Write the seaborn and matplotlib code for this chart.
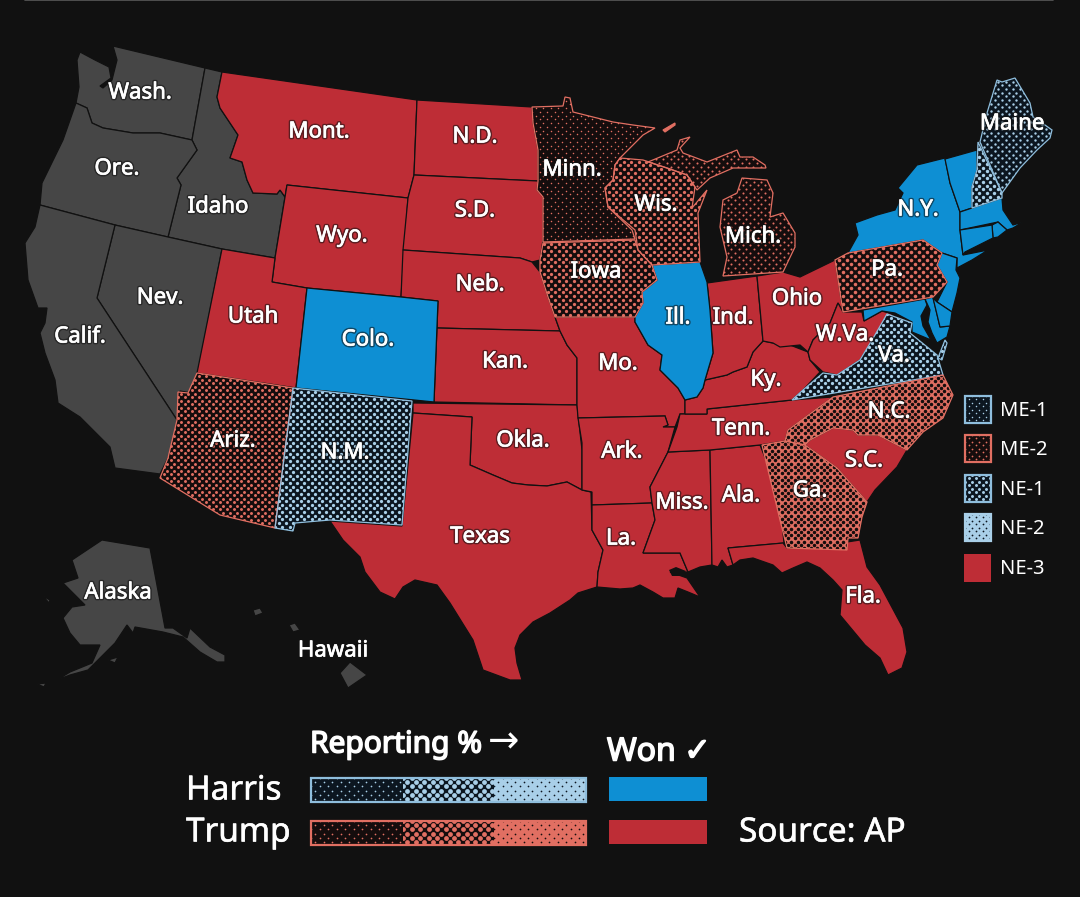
#!/usr/bin/env python3
import numpy as np
import pandas as pd
import matplotlib
matplotlib.use("Agg")
import matplotlib.pyplot as plt
import matplotlib.patheffects as pe
import seaborn as sns

BG = "#111111"
GRAY = "#464646"
RED = "#BE2D36"
BLUE = "#0E8FD3"
SALMON = "#E16F62"
SKY = "#A9CFE8"
NAVY = "#0C1620"
MAROON = "#150D0D"

# state outlines in pixels
wash = [(113,46),(205,68),(192,140),(160,133),(133,133),(103,128),(92,123),(87,108),(76,103),(79,87),(77,60),(80,52),(95,60),(109,67),(111,78),(100,86),(103,88),(112,80),(117,60)]
idaho = [(205,68),(222,72),(217,97),(220,108),(238,135),(230,158),(242,162),(247,180),(253,193),(277,194),(280,190),(285,197),(275,258),(222,249),(168,237),(181,185),(177,178),(197,150),(192,140)]
oregon = [(76,103),(87,108),(92,123),(103,128),(133,133),(160,133),(192,140),(197,150),(177,178),(181,185),(168,237),(115,225),(40,205),(42,183),(63,140)]
nevada = [(115,225),(168,237),(222,249),(198,372),(191,393),(180,391),(177,420),(97,298)]
calif = [(40,205),(115,225),(97,298),(177,420),(180,433),(167,460),(160,474),(115,468),(110,447),(80,417),(58,403),(55,380),(45,353),(40,333),(45,323),(47,308),(38,308),(28,280),(25,243),(35,227)]
alaska = [(102,540),(150,548),(165,628),(173,628),(187,638),(190,628),(210,647),(225,655),(225,662),(217,662),(200,652),(183,637),(163,632),(135,627),(133,633),(127,625),(115,643),(88,670),(70,675),(57,680),(70,672),(92,663),(100,645),(80,645),(70,633),(63,618),(72,607),(85,605),(63,583),(78,578),(72,560)]
kodiak = [(108,660),(118,657),(115,663)]
st_lawrence = [(43,596),(50,600),(49,603)]
aleutian = [(37,684),(46,683),(44,687)]
hawaii_big = [(350,662),(367,675),(348,688),(340,673)]
maui = [(289,625),(295,623),(300,630),(293,632)]
kauai = [(253,610),(260,608),(263,613),(255,616)]

montana = [(222,72),(417,100),(414,175),(408,198),(287,185),(285,197),(280,190),(277,194),(253,193),(247,180),(242,162),(230,158),(238,135),(220,108),(217,97)]
wyoming = [(287,185),(408,198),(401,297),(307,288),(272,282),(275,258)]
utah = [(222,249),(275,258),(272,282),(307,288),(296,388),(197,373)]
north_dakota = [(417,100),(532,107),(533,123),(538,150),(538,181),(414,175)]
south_dakota = [(414,175),(538,181),(537,190),(543,197),(543,240),(540,260),(532,262),(520,258),(403,250),(408,198)]
nebraska = [(403,250),(520,258),(532,262),(540,272),(548,297),(555,317),(560,331),(437,328),(438,301),(401,297)]
kansas = [(437,328),(560,331),(567,345),(577,358),(577,405),(434,402)]
oklahoma = [(413,403),(577,405),(582,450),(582,490),(567,482),(547,486),(528,485),(512,483),(493,475),(470,465),(472,417),(413,413)]
texas = [(413,413),(472,417),(470,465),(493,475),(512,483),(528,485),(547,486),(567,482),(582,490),(591,492),(592,530),(603,550),(598,572),(597,587),(578,593),(570,600),(550,613),(533,622),(520,635),(515,648),(517,663),(522,680),(510,680),(483,670),(473,640),(450,603),(437,585),(415,580),(403,587),(395,599),(380,592),(365,572),(360,557),(343,540),(330,521),(402,526)]
missouri = [(555,317),(635,317),(635,322),(648,345),(662,355),(660,370),(678,388),(685,400),(685,414),(680,414),(675,427),(663,427),(668,425),(665,416),(578,418),(577,405),(577,358),(567,345),(560,331)]
arkansas = [(578,418),(665,416),(668,425),(663,427),(675,427),(668,452),(650,487),(652,503),(592,505),(592,492),(582,490),(582,443)]
louisiana = [(592,505),(652,503),(655,520),(643,553),(680,553),(688,572),(670,572),(687,578),(700,597),(688,592),(678,588),(675,598),(663,598),(653,592),(640,585),(633,588),(620,589),(597,587),(598,572),(603,550),(592,530)]
mississippi = [(668,452),(710,450),(712,565),(700,567),(688,572),(680,553),(643,553),(655,520),(652,503),(650,487)]
alabama = [(710,450),(760,445),(770,470),(782,523),(784,543),(728,548),(733,565),(727,567),(722,560),(718,567),(712,565)]
tennessee = [(685,414),(707,414),(707,409),(792,400),(833,397),(788,430),(785,441),(760,445),(710,450),(668,452),(677,427),(680,414)]
kentucky = [(763,341),(773,343),(790,345),(808,352),(810,360),(820,372),(803,390),(792,400),(707,409),(707,414),(685,414),(685,400),(697,397),(703,388),(705,380),(727,375),(733,372),(747,367),(753,352)]
indiana = [(707,283),(757,276),(763,341),(753,352),(747,367),(733,372),(727,375),(705,380),(713,353),(710,310)]
ohio = [(757,276),(783,272),(800,277),(835,260),(843,312),(838,303),(830,323),(813,340),(808,352),(800,345),(780,347),(773,343),(763,341)]
west_virginia = [(843,312),(862,312),(864,321),(882,311),(895,315),(887,316),(875,337),(860,360),(837,375),(823,372),(810,360),(808,352),(813,340),(830,323),(838,303)]
south_carolina = [(805,445),(810,440),(833,428),(853,430),(858,435),(878,435),(907,450),(897,467),(875,490),(867,502),(837,468)]
florida = [(728,548),(783,543),(787,548),(847,548),(847,542),(860,540),(867,567),(880,585),(903,628),(907,652),(902,668),(888,675),(880,658),(865,645),(850,627),(840,615),(842,590),(833,580),(820,568),(807,562),(793,568),(782,573),(773,565),(753,558),(740,560),(733,565)]
pontchartrain = [(669,570),(676,567),(686,571),(680,576),(672,576)]

colorado = [(307,288),(401,297),(438,301),(434,402),(296,388)]
illinois = [(652,265),(700,262),(707,282),(710,310),(713,353),(705,380),(703,388),(697,397),(685,400),(678,388),(660,370),(662,355),(648,345),(635,322),(635,317),(643,303),(642,292),(657,280)]
new_york = [(848,253),(858,235),(855,223),(877,215),(895,210),(903,193),(898,188),(917,165),(945,158),(950,183),(960,212),(960,230),(963,255),(988,250),(972,260),(957,268),(957,258),(942,253),(923,240)]
new_jersey = [(942,253),(957,258),(956,270),(960,278),(957,293),(952,312),(937,302),(947,282),(937,265)]
maryland_west = [(863,310),(925,299),(927,305),(921,316),(923,326),(931,340),(912,332),(912,322),(895,313),(882,311),(864,321)]
maryland_east = [(925,299),(933,297),(940,327),(950,326),(947,337),(937,343),(932,333),(928,322),(930,310)]
delaware = [(933,298),(937,302),(952,312),(950,326),(940,327)]
vermont = [(945,159),(977,150),(977,170),(972,187),(972,208),(960,212),(950,183)]
massachusetts = [(960,212),(1002,198),(1003,210),(1013,225),(1023,222),(1013,228),(1007,230),(998,222),(960,230)]
rhode_island = [(998,222),(992,225),(993,238),(998,237),(1007,230)]
connecticut = [(960,230),(992,225),(993,238),(965,252),(963,255)]

minnesota = [(532,107),(563,106),(565,97),(570,98),(573,112),(613,122),(633,125),(655,128),(643,135),(620,158),(615,165),(613,180),(605,188),(608,207),(632,230),(635,239),(543,242),(543,197),(537,190),(538,181),(538,150),(533,123)]
michigan_upper = [(648,162),(677,150),(680,140),(690,137),(680,148),(683,153),(707,162),(737,150),(740,157),(753,157),(765,165),(766,168),(747,168),(733,168),(710,178),(697,190),(695,187),(687,175),(667,168)]
michigan_lower = [(742,178),(767,180),(773,193),(770,217),(783,213),(795,233),(795,247),(783,272),(723,276),(727,257),(720,227),(723,200),(737,193)]
isle_royale = [(663,130),(675,123),(675,125),(665,132)]
wisconsin = [(615,165),(620,158),(643,160),(667,168),(687,175),(695,187),(692,208),(707,190),(698,213),(700,262),(652,265),(638,250),(635,230),(608,207),(605,188),(613,180)]
iowa = [(543,243),(635,240),(638,250),(652,265),(657,280),(642,292),(643,303),(635,317),(555,317),(548,297),(540,272),(540,260)]
pennsylvania = [(835,260),(848,253),(923,240),(942,253),(937,265),(947,282),(933,297),(843,312)]
arizona = [(197,373),(293,388),(275,528),(220,515),(160,478),(168,458),(177,420),(178,392),(188,393)]
new_mexico = [(293,388),(412,401),(402,525),(330,520),(295,523),(293,531),(275,528)]
virginia = [(887,314),(912,323),(910,333),(937,355),(943,375),(792,400),(803,390),(823,373),(837,375),(860,360),(875,335)]
va_shore = [(945,340),(938,358),(942,360),(947,343)]
north_carolina = [(943,375),(953,395),(943,418),(923,432),(907,450),(878,435),(858,435),(853,430),(833,428),(810,440),(805,445),(785,441),(788,430),(833,397)]
georgia = [(762,445),(785,441),(805,445),(837,468),(867,502),(862,517),(858,538),(848,538),(847,550),(787,548),(780,520)]
maine = [(980,142),(987,113),(997,80),(1002,82),(1015,78),(1030,103),(1033,117),(1045,125),(1052,130),(1050,138),(1037,150),(1020,168),(1002,193)]
new_hampshire = [(978,142),(1002,193),(1002,198),(972,208),(972,187),(977,170)]

gray_states = [wash, idaho, oregon, nevada, calif, alaska, kodiak, st_lawrence, aleutian, hawaii_big, maui, kauai]
red_states = [montana, wyoming, utah, north_dakota, south_dakota, nebraska, kansas, oklahoma, texas, missouri, arkansas, louisiana, mississippi, alabama, tennessee, kentucky, indiana, ohio, west_virginia, south_carolina, florida]
blue_states = [colorado, illinois, new_york, new_jersey, maryland_west, maryland_east, delaware, vermont, massachusetts, rhode_island, connecticut]

# fill, dots, outline, dot area in pt^2, lattice step in px
pattern_styles = [
    (minnesota, MAROON, SALMON, SALMON, 1.2, 7.5),
    (michigan_upper, MAROON, SALMON, SALMON, 2.2, 7.5),
    (michigan_lower, MAROON, SALMON, SALMON, 2.2, 7.5),
    (isle_royale, SALMON, SALMON, SALMON, 1, 7.5),
    (wisconsin, MAROON, SALMON, SALMON, 5.5, 7.5),
    (iowa, MAROON, SALMON, SALMON, 5.5, 7.5),
    (pennsylvania, MAROON, SALMON, SALMON, 6.5, 8),
    (arizona, MAROON, SALMON, SALMON, 4.5, 7),
    (new_mexico, NAVY, SKY, "#8FBEDD", 5.5, 7.3),
    (virginia, NAVY, SKY, "#8FBEDD", 5.5, 7.3),
    (va_shore, NAVY, SKY, "#8FBEDD", 5.5, 7.3),
    (north_carolina, SALMON, MAROON, SALMON, 6.5, 6.5),
    (georgia, SALMON, MAROON, SALMON, 6.5, 6.5),
    (maine, NAVY, SKY, "#8FBEDD", 3, 7.3),
    (new_hampshire, NAVY, SKY, "#8FBEDD", 6, 7.3),
]

state_names = ["Wash.", "Ore.", "Idaho", "Mont.", "N.D.", "Minn.", "Wis.", "Mich.", "Maine", "N.Y.", "Pa.", "Ohio", "Ind.", "Ill.", "Iowa", "Neb.", "S.D.", "Wyo.", "Utah", "Colo.", "Nev.", "Calif.", "Kan.", "Mo.", "Ky.", "W.Va.", "Va.", "N.C.", "S.C.", "Tenn.", "Ga.", "Ala.", "Miss.", "La.", "Ark.", "Okla.", "Texas", "N.M.", "Ariz.", "Fla.", "Alaska", "Hawaii"]
name_x = [140, 117, 218, 319, 475, 572, 656, 753, 1012, 918, 887, 797, 733, 678, 596, 480, 475, 342, 253, 368, 160, 80, 505, 618, 766, 845, 894, 889, 864, 741, 810, 741, 682, 621, 622, 523, 480, 345, 233, 863, 118, 333]
name_y = [91, 167, 205, 130, 135, 168, 203, 235, 122, 208, 268, 297, 316, 316, 270, 283, 209, 234, 315, 338, 296, 335, 360, 362, 378, 333, 354, 410, 459, 427, 489, 494, 501, 537, 450, 439, 535, 451, 439, 595, 591, 649]

district_labels = ["ME-1", "ME-2", "NE-1", "NE-2", "NE-3"]
district_tops = [396, 435, 475, 514, 554]


def dot_texture(ax, patch, outline, dots, area, step):
    # diamond lattice of dots, clipped to the shape
    pts = np.array(outline)
    xs = np.arange(pts[:, 0].min() - step, pts[:, 0].max() + step, step)
    ys = np.arange(pts[:, 1].min() - step, pts[:, 1].max() + step, step)
    gx, gy = np.meshgrid(xs, ys)
    lattice = pd.DataFrame({
        "x": np.r_[gx.ravel(), gx.ravel() + step / 2],
        "y": np.r_[gy.ravel(), gy.ravel() + step / 2],
    })
    before = len(ax.collections)
    sns.scatterplot(data=lattice, x="x", y="y", ax=ax, s=area, color=dots,
                    linewidth=0, legend=False, zorder=3)
    for coll in ax.collections[before:]:
        coll.set_clip_path(patch)


def patterned(ax, outline, fill, dots, edge, area, step, lw=0.9):
    xs, ys = zip(*outline)
    patch = ax.fill(xs, ys, facecolor=fill, edgecolor="none", zorder=2)[0]
    dot_texture(ax, patch, outline, dots, area, step)
    ax.fill(xs, ys, facecolor="none", edgecolor=edge, linewidth=lw, zorder=4)


def box(x0, y0, x1, y1):
    return [(x0, y0), (x1, y0), (x1, y1), (x0, y1)]


def heavy(width):
    # the installed weights come out thin, so thicken the glyphs
    return [pe.withStroke(linewidth=width, foreground="white")]


sns.set_theme(style="dark", rc={"figure.facecolor": BG, "axes.facecolor": BG, "savefig.facecolor": BG})
plt.rcParams["font.family"] = ["Noto Sans", "DejaVu Sans"]

fig = plt.figure(figsize=(10.8, 8.97), dpi=100)
ax = fig.add_axes([0, 0, 1, 1])

ax.plot([25, 1053], [0.5, 0.5], color="#5a5a5a", linewidth=1.2, zorder=1)

for outline in gray_states:
    ax.fill(*zip(*outline), facecolor=GRAY, edgecolor=BG, linewidth=0.9, zorder=1)
for outline in red_states:
    ax.fill(*zip(*outline), facecolor=RED, edgecolor=BG, linewidth=0.9, zorder=1)
for outline in blue_states:
    ax.fill(*zip(*outline), facecolor=BLUE, edgecolor=BG, linewidth=0.9, zorder=1)
ax.fill(*zip(*pontchartrain), facecolor=BG, edgecolor="none", zorder=1.5)

for outline, fill, dots, edge, area, step in pattern_styles:
    patterned(ax, outline, fill, dots, edge, area, step)

for name, x, y in zip(state_names, name_x, name_y):
    ax.text(x, y + 2, name, color="white", fontsize=16, ha="center", va="center", zorder=6,
            path_effects=[pe.Stroke(linewidth=2.6, foreground="#11111190"),
                          pe.Stroke(linewidth=0.5, foreground="white"), pe.Normal()])

# district legend
district_styles = [
    (NAVY, SKY, "#8FBEDD", 1.2, 7),
    (MAROON, SALMON, SALMON, 1.6, 7),
    (NAVY, SKY, "#8FBEDD", 4.5, 7),
    (SKY, NAVY, SKY, 1.6, 7),
]
for top, label, style in zip(district_tops, district_labels, district_styles):
    fill, dots, edge, area, step = style
    patterned(ax, box(965, top, 991, top + 27), fill, dots, edge, area, step, lw=1.6)
for top, label in zip(district_tops, district_labels):
    ax.text(1000, top + 15, label, color="white", fontsize=14.5, ha="left", va="center")
ax.fill(*zip(*box(964, district_tops[4], 991, district_tops[4] + 28)), facecolor=RED, edgecolor="none")

# reporting key
ax.text(310, 745, "Reporting %", color="white", fontsize=21.5, ha="left", va="center", path_effects=heavy(1.1))
ax.text(488, 742, "→", color="white", fontsize=27, ha="left", va="center", family="DejaVu Sans")
ax.text(607, 752, "Won ✓", color="white", fontsize=23, ha="left", va="center", path_effects=heavy(1.1))
ax.text(186, 791, "Harris", color="white", fontsize=24, ha="left", va="center", path_effects=heavy(0.4))
ax.text(186, 833, "Trump", color="white", fontsize=24, ha="left", va="center", path_effects=heavy(0.4))
ax.text(739, 833, "Source: AP", color="white", fontsize=24, ha="left", va="center", path_effects=heavy(0.4))

key_rows = [(778, NAVY, SKY, "#8FBEDD"), (821, MAROON, SALMON, SALMON)]
for top, dark, light, edge in key_rows:
    patterned(ax, box(311, top, 403, top + 24), dark, light, dark, 1.5, 8.5, lw=0)
    patterned(ax, box(403, top, 494, top + 24), dark, light, dark, 12, 8.5, lw=0)
    patterned(ax, box(494, top, 586, top + 24), light, dark, light, 1.5, 8.5, lw=0)
    ax.fill(*zip(*box(311, top, 586, top + 24)), facecolor="none", edgecolor=edge, linewidth=1.6, zorder=5)
ax.fill(*zip(*box(609, 777, 707, 801)), facecolor=BLUE, edgecolor="none")
ax.fill(*zip(*box(609, 820, 707, 844)), facecolor=RED, edgecolor="none")

ax.set_xlim(0, 1080)
ax.set_ylim(897, 0)
ax.set_axis_off()

plt.savefig("out.png", dpi=100, facecolor=BG)
